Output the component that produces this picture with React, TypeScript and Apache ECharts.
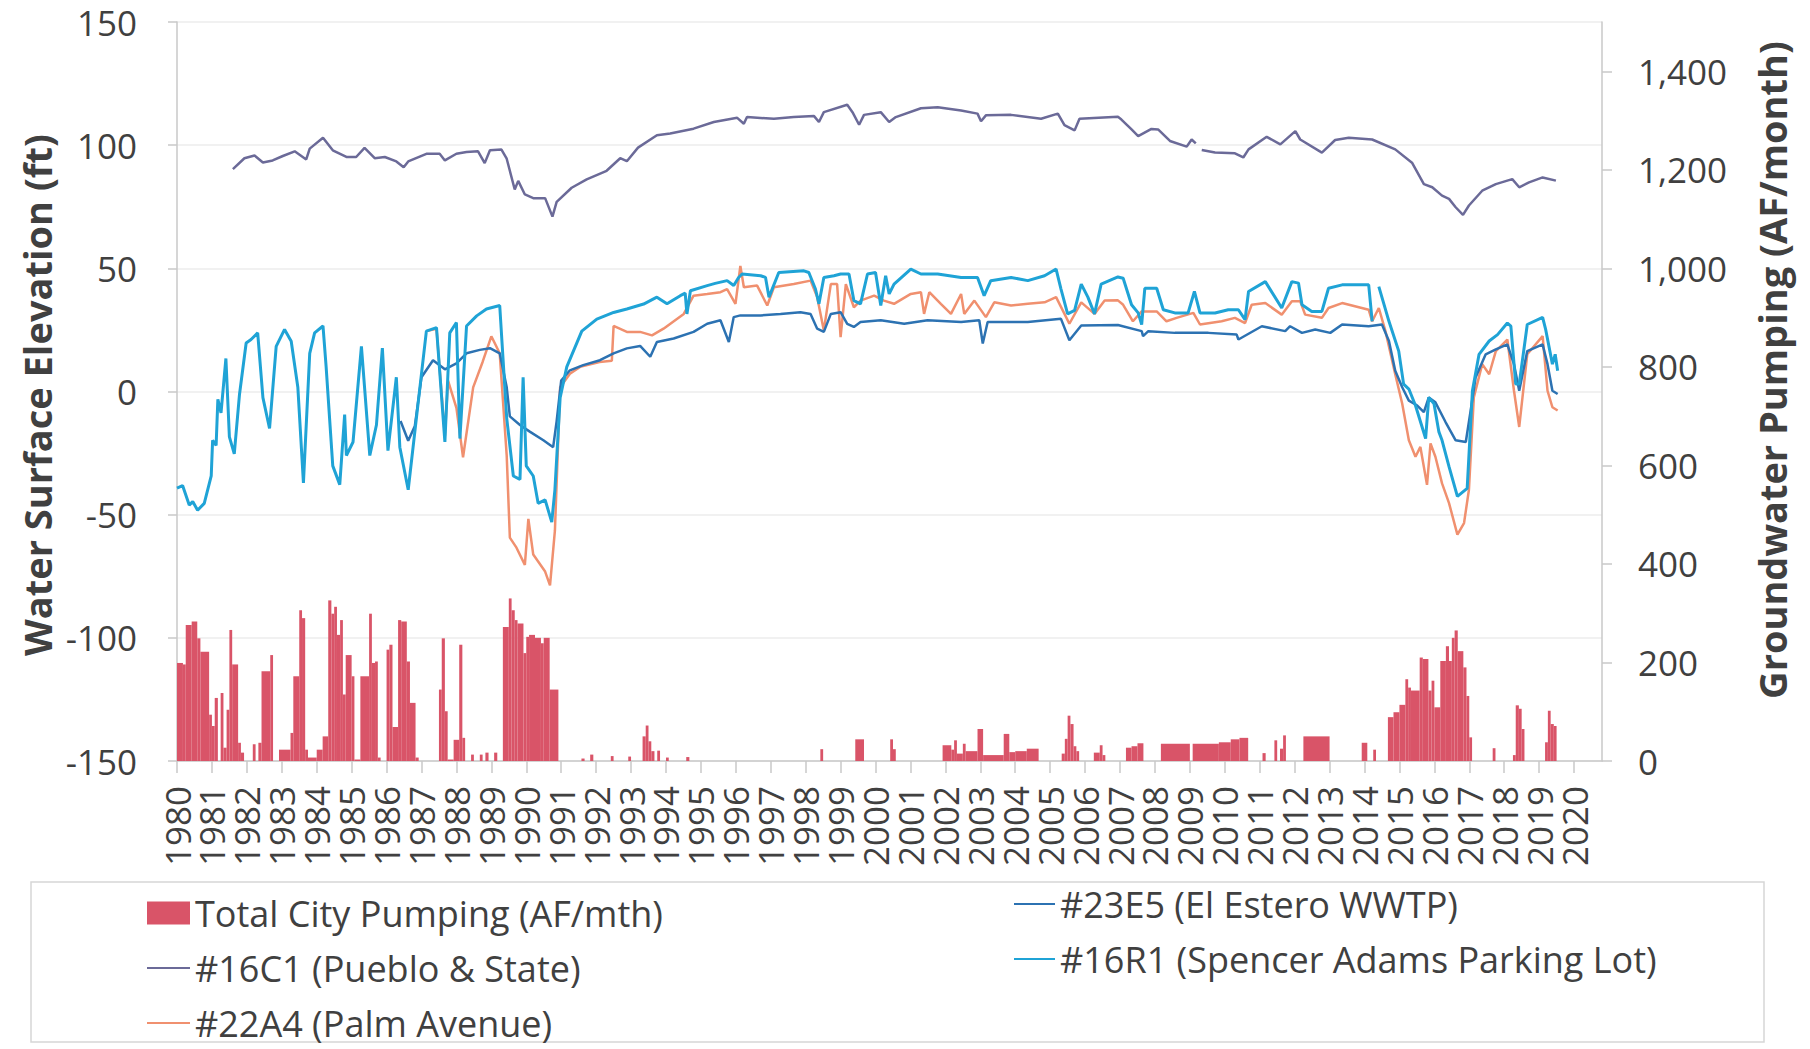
import React, { useEffect, useRef } from 'react';
import * as echarts from 'echarts';

const FONT = '"Open Sans", "Noto Sans", "DejaVu Sans", sans-serif';
const TEXT_COLOR = '#404040';

const SERIES_NAMES = [
  'Total City Pumping (AF/mth)',
  '#16C1 (Pueblo & State)',
  '#22A4 (Palm Avenue)',
  '#23E5 (El Estero WWTP)',
  '#16R1 (Spencer Adams Parking Lot)',
];

const SERIES_COLORS = ['#d95468', '#6b6a98', '#f0906f', '#2c72b2', '#1fa3d6'];

const X_MIN = 1980;
const X_MAX = 2020.8;
const LEFT_MIN = -150;
const LEFT_MAX = 150;
const RIGHT_MIN = 0;
const RIGHT_MAX = 1500;

// [start year, end year, AF/month]
const PUMPING_RUNS: [number, number, number][] = [
  [1980.0, 1980.17, 199], [1980.17, 1980.25, 196], [1980.25, 1980.42, 276], [1980.42, 1980.58, 283],
  [1980.58, 1980.67, 249], [1980.67, 1980.92, 222], [1980.92, 1981.0, 94], [1981.0, 1981.08, 71],
  [1981.08, 1981.17, 128], [1981.25, 1981.33, 138], [1981.33, 1981.42, 27], [1981.42, 1981.5, 104],
  [1981.5, 1981.58, 266], [1981.58, 1981.75, 196], [1981.75, 1981.83, 37], [1981.83, 1981.92, 17],
  [1982.17, 1982.25, 34], [1982.33, 1982.42, 37], [1982.42, 1982.67, 182], [1982.67, 1982.75, 215],
  [1982.92, 1983.25, 23], [1983.25, 1983.33, 57], [1983.33, 1983.5, 172], [1983.5, 1983.58, 306],
  [1983.58, 1983.67, 290], [1983.67, 1983.75, 23], [1983.75, 1984.0, 7], [1984.0, 1984.17, 23],
  [1984.17, 1984.33, 50], [1984.33, 1984.42, 326], [1984.42, 1984.5, 299], [1984.5, 1984.58, 313],
  [1984.58, 1984.67, 256], [1984.67, 1984.75, 286], [1984.75, 1984.83, 135], [1984.83, 1985.0, 215],
  [1985.0, 1985.08, 172], [1985.08, 1985.25, 3], [1985.25, 1985.5, 172], [1985.5, 1985.58, 299],
  [1985.58, 1985.67, 199], [1985.67, 1985.75, 202], [1985.75, 1985.83, 7], [1986.0, 1986.08, 226],
  [1986.08, 1986.17, 236], [1986.17, 1986.33, 69], [1986.33, 1986.42, 286], [1986.42, 1986.58, 283],
  [1986.58, 1986.67, 202], [1986.67, 1986.83, 118], [1986.83, 1986.92, 7], [1987.5, 1987.58, 145],
  [1987.58, 1987.67, 249], [1987.67, 1987.75, 101], [1987.75, 1987.92, 3], [1987.92, 1988.08, 43],
  [1988.08, 1988.17, 236], [1988.17, 1988.25, 47], [1988.42, 1988.5, 13], [1988.67, 1988.75, 13],
  [1988.83, 1988.92, 17], [1989.08, 1989.17, 17], [1989.33, 1989.5, 272], [1989.5, 1989.58, 330],
  [1989.58, 1989.67, 306], [1989.67, 1989.75, 286], [1989.75, 1989.92, 279], [1989.92, 1990.0, 219],
  [1990.0, 1990.08, 252], [1990.08, 1990.25, 256], [1990.25, 1990.42, 250], [1990.42, 1990.5, 239],
  [1990.5, 1990.67, 250], [1990.67, 1990.92, 145],
  [1991.58, 1991.67, 5], [1991.83, 1991.92, 13], [1992.42, 1992.5, 10], [1992.92, 1993.0, 9],
  [1993.33, 1993.42, 50], [1993.42, 1993.5, 72], [1993.5, 1993.58, 40], [1993.58, 1993.67, 20],
  [1993.75, 1993.83, 21], [1994.0, 1994.08, 7], [1994.58, 1994.67, 8],
  [1998.42, 1998.5, 24], [1999.42, 1999.67, 44], [2000.42, 2000.5, 44], [2000.5, 2000.58, 24],
  [2001.92, 2002.17, 32], [2002.17, 2002.25, 23], [2002.25, 2002.33, 42], [2002.33, 2002.5, 15],
  [2002.5, 2002.58, 35], [2002.58, 2002.92, 20], [2002.92, 2003.08, 65], [2003.08, 2003.67, 12],
  [2003.67, 2003.83, 55], [2003.83, 2004.0, 18], [2004.0, 2004.33, 20], [2004.33, 2004.67, 25],
  [2005.33, 2005.42, 15], [2005.42, 2005.5, 45], [2005.5, 2005.58, 92], [2005.58, 2005.67, 75],
  [2005.67, 2005.75, 30], [2005.75, 2005.83, 20],
  [2006.25, 2006.42, 17], [2006.42, 2006.5, 32], [2006.5, 2006.58, 12],
  [2007.17, 2007.33, 27], [2007.33, 2007.5, 30], [2007.5, 2007.67, 36],
  [2008.17, 2009.0, 35], [2009.08, 2009.83, 35], [2009.83, 2010.17, 38], [2010.17, 2010.42, 44],
  [2010.42, 2010.67, 47],
  [2011.08, 2011.17, 16], [2011.42, 2011.5, 42], [2011.58, 2011.67, 25], [2011.67, 2011.75, 52],
  [2012.25, 2013.0, 50], [2013.92, 2014.08, 37], [2014.25, 2014.33, 23],
  [2014.67, 2014.83, 89], [2014.83, 2015.0, 99], [2015.0, 2015.17, 114], [2015.17, 2015.25, 166],
  [2015.25, 2015.33, 149], [2015.33, 2015.58, 143], [2015.58, 2015.67, 210], [2015.67, 2015.83, 207],
  [2015.83, 2015.92, 143], [2015.92, 2016.0, 163], [2016.0, 2016.17, 109], [2016.17, 2016.33, 203],
  [2016.33, 2016.42, 233], [2016.42, 2016.5, 203], [2016.5, 2016.58, 250], [2016.58, 2016.67, 265],
  [2016.67, 2016.83, 223], [2016.83, 2016.92, 190], [2016.92, 2017.0, 132], [2017.0, 2017.08, 48],
  [2017.67, 2017.75, 26],
  [2018.25, 2018.33, 12], [2018.33, 2018.42, 113], [2018.42, 2018.5, 106], [2018.5, 2018.58, 65],
  [2019.17, 2019.25, 38], [2019.25, 2019.33, 102], [2019.33, 2019.42, 75], [2019.42, 2019.5, 71],
];

const WELL_16C1: any[] = [
  [1981.6, 90.3], [1981.93, 94.7], [1982.22, 95.8], [1982.46, 93], [1982.74, 93.8], [1983.03, 95.6],
  [1983.37, 97.5], [1983.7, 94.2], [1983.8, 98.6], [1984.18, 103], [1984.46, 97.9], [1984.85, 95.2],
  [1985.13, 95.2], [1985.37, 98.9], [1985.66, 94.7], [1985.95, 95.2], [1986.28, 93.4], [1986.49, 91],
  [1986.62, 93.4], [1987.14, 96.5], [1987.52, 96.5], [1987.67, 93.8], [1988.0, 96.5], [1988.29, 97.2],
  [1988.62, 97.5], [1988.81, 92.7], [1988.96, 97.9], [1989.29, 98.2], [1989.44, 94.5], [1989.67, 82],
  [1989.77, 85.5], [1989.96, 80], [1990.2, 78.5], [1990.54, 78.5], [1990.75, 71], [1990.87, 77],
  [1991.3, 82.7], [1991.73, 86.1], [1992.3, 89.6], [1992.69, 94.7], [1992.88, 93.5], [1993.2, 99],
  [1993.74, 104], [1994.12, 104.7], [1994.79, 106.7], [1995.37, 109.4], [1996.04, 111.1], [1996.23, 108.7],
  [1996.32, 111.4], [1997.09, 110.7], [1997.66, 111.4], [1998.24, 111.8], [1998.38, 109.4], [1998.52, 113.4],
  [1999.19, 116.4], [1999.34, 113.4], [1999.53, 108.3], [1999.67, 112.3], [2000.15, 113.4], [2000.39, 109.4],
  [2000.58, 111.4], [2001.3, 115], [2001.78, 115.4], [2002.45, 114.1], [2002.92, 112.8], [2003.02, 109.7],
  [2003.16, 112.1], [2003.88, 112.3], [2004.74, 110.7], [2005.22, 112.8], [2005.41, 108.1], [2005.7, 106],
  [2005.84, 110.7], [2006.94, 111.5], [2007.04, 110.4], [2007.33, 106.4], [2007.52, 103.7], [2007.9, 106.6],
  [2008.09, 106.4], [2008.43, 101.7], [2008.91, 99.4], [2009.05, 102.3], [2009.17, 100.7], [2009.25, '-'],
  [2009.34, 98], [2009.72, 97], [2010.29, 96.7], [2010.53, 95], [2010.68, 98.3], [2011.2, 103.4],
  [2011.59, 100.3], [2012.02, 105.7], [2012.16, 102.3], [2012.78, 97], [2013.16, 102.1], [2013.55, 103],
  [2014.22, 102.3], [2014.88, 98.3], [2015.36, 92.9], [2015.7, 84.2], [2015.94, 82.9], [2016.22, 79.5],
  [2016.42, 78.2], [2016.61, 74.8], [2016.82, 71.7], [2016.99, 75.5], [2017.37, 81.5], [2017.76, 84.2],
  [2018.23, 86.2], [2018.43, 82.9], [2018.71, 84.9], [2019.1, 86.9], [2019.48, 85.6],
];

const WELL_22A4: any[] = [
  [1987.14, 24.5], [1987.43, 25.5], [1987.67, -18], [1987.76, 4.4], [1988.0, -6.6], [1988.19, -26.7],
  [1988.48, 1.7], [1988.75, 12], [1989.0, 22.4], [1989.24, 15.5], [1989.44, -26], [1989.53, -59.3],
  [1989.72, -63.4], [1989.96, -70.4], [1990.06, -51.7], [1990.2, -66.2], [1990.34, -69], [1990.54, -73.1],
  [1990.68, -78.7], [1990.82, -56.5], [1990.97, 1.7], [1991.25, 7.2], [1991.54, 10], [1992.1, 12],
  [1992.45, 12.5], [1992.5, 26.6], [1992.88, 24.2], [1993.26, 24.2], [1993.6, 22.8], [1993.93, 25.5],
  [1994.51, 31.5], [1994.79, 38.9], [1995.18, 39.6], [1995.56, 40.3], [1995.75, 41.6], [1995.99, 35.6],
  [1996.13, 51], [1996.23, 42.3], [1996.61, 43], [1996.9, 34.9], [1997.09, 42.3], [1997.66, 43.6],
  [1998.14, 45], [1998.33, 38.3], [1998.52, 24.8], [1998.72, 43.6], [1998.9, 43.6], [1999.0, 22.1],
  [1999.15, 43.6], [1999.38, 34.2], [1999.57, 36.9], [1999.96, 38.9], [2000.24, 36.9], [2000.53, 35.6],
  [2001.01, 39.6], [2001.3, 40.3], [2001.39, 31.5], [2001.54, 40.3], [2001.87, 35.6], [2002.16, 31.5],
  [2002.45, 39.6], [2002.54, 31.5], [2002.83, 36.9], [2003.16, 30.2], [2003.4, 36.2], [2003.88, 34.9],
  [2004.36, 35.6], [2004.84, 36.2], [2005.17, 38.3], [2005.41, 31.5], [2005.55, 27.5], [2005.89, 36.2],
  [2006.27, 31.5], [2006.56, 36.9], [2006.94, 37], [2007.09, 35.2], [2007.37, 28.5], [2007.62, 32.5],
  [2008.05, 32.5], [2008.33, 28.5], [2008.62, 29.9], [2009.1, 31.9], [2009.29, 27.2], [2009.91, 28.5],
  [2010.29, 29.9], [2010.58, 27.8], [2010.77, 35.2], [2011.16, 35.9], [2011.63, 31.2], [2011.92, 36.6],
  [2012.16, 36.6], [2012.3, 31.2], [2012.78, 29.9], [2012.97, 33.9], [2013.36, 35.9], [2014.12, 33.2],
  [2014.22, 28.5], [2014.41, 33.9], [2014.6, 24.5], [2014.88, 7], [2015.08, -5], [2015.27, -19.8],
  [2015.46, -26.5], [2015.6, -22.5], [2015.79, -37.9], [2015.89, -21.1], [2016.03, -26.5], [2016.22, -37.3],
  [2016.42, -45.3], [2016.66, -58.1], [2016.85, -53.4], [2016.99, -39.9], [2017.13, -2.4], [2017.37, 11.1],
  [2017.57, 7], [2017.76, 16.4], [2018.09, 21.1], [2018.28, 0.3], [2018.43, -14.4], [2018.66, 15.1],
  [2019.1, 22.5], [2019.24, 0.3], [2019.38, -6.4], [2019.53, -7.7],
];

const WELL_23E5: any[] = [
  [1986.4, -12], [1986.62, -20], [1986.81, -14], [1987.0, 5.8], [1987.33, 12.7], [1987.67, 9],
  [1988.0, 11.4], [1988.29, 15.5], [1988.67, 16.9], [1988.96, 17.6], [1989.24, 15.5], [1989.44, 1.7],
  [1989.53, -10.1], [1989.82, -13.6], [1990.1, -16.3], [1990.49, -19.8], [1990.77, -22.6], [1990.87, -12],
  [1991.0, 4.4], [1991.25, 8.6], [1991.63, 10.7], [1992.11, 12.7], [1992.5, 15.5], [1992.88, 17.5],
  [1993.26, 18.5], [1993.55, 14.1], [1993.74, 20.1], [1994.22, 21.5], [1994.79, 24.2], [1995.18, 27.5],
  [1995.56, 28.9], [1995.8, 20.1], [1995.94, 30.2], [1996.13, 30.9], [1996.71, 30.9], [1997.28, 31.5],
  [1997.85, 32.2], [1998.14, 31.5], [1998.33, 25.5], [1998.52, 24.2], [1998.72, 31.5], [1999.0, 32.2],
  [1999.19, 27.5], [1999.38, 26.2], [1999.57, 28.2], [2000.15, 28.9], [2000.82, 27.5], [2001.49, 28.9],
  [2002.45, 28.2], [2002.97, 28.9], [2003.07, 19.5], [2003.21, 28.2], [2004.36, 28.2], [2005.31, 29.5],
  [2005.55, 20.8], [2005.89, 26.8], [2006.94, 27], [2007.62, 24.5], [2007.66, 22.5], [2007.81, 24.5],
  [2008.57, 23.8], [2009.53, 23.8], [2010.34, 23.1], [2010.39, 21.1], [2011.06, 26.5], [2011.73, 24.5],
  [2011.87, 26.5], [2012.21, 23.8], [2012.59, 25.2], [2013.02, 23.8], [2013.36, 27.2], [2014.12, 26.5],
  [2014.5, 27.2], [2014.7, 20.5], [2014.88, 8.4], [2015.08, 1.7], [2015.27, -3.7], [2015.51, -5.7],
  [2015.7, -8.4], [2015.84, -2.4], [2016.03, -4.4], [2016.32, -12.4], [2016.61, -19.8], [2016.9, -20.5],
  [2017.04, -7.7], [2017.18, 5.7], [2017.47, 15.1], [2017.76, 17.1], [2018.09, 19.1], [2018.28, 11.1],
  [2018.43, 0.3], [2018.66, 16.4], [2019.1, 19.1], [2019.24, 11.1], [2019.38, 0.3], [2019.53, -1],
];

const WELL_16R1: any[] = [
  [1980.0, -39.2], [1980.16, -38.2], [1980.35, -46.1], [1980.45, -44.7], [1980.59, -48.2], [1980.78, -45.4],
  [1980.98, -34.3], [1981.02, -19.8], [1981.12, -21.9], [1981.17, -3.2], [1981.26, -8.7], [1981.4, 13.4],
  [1981.5, -18.4], [1981.64, -25.3], [1981.79, -1.1], [1981.98, 19.7], [1982.12, 21.1], [1982.31, 23.8],
  [1982.46, -2.5], [1982.65, -15], [1982.84, 18.3], [1983.08, 25.2], [1983.27, 20.4], [1983.46, 1.7],
  [1983.62, -37.1], [1983.8, 15.5], [1983.94, 23.8], [1984.18, 26.6], [1984.27, 10], [1984.46, -30.2],
  [1984.66, -37.8], [1984.8, -9.4], [1984.85, -26], [1985.04, -20.5], [1985.28, 18.3], [1985.52, -26],
  [1985.71, -13.6], [1985.88, 17.6], [1986.04, -24], [1986.28, 5.8], [1986.38, -22.6], [1986.62, -39.9],
  [1986.81, -16.3], [1987.14, 24.5], [1987.43, 25.9], [1987.67, -20.5], [1987.81, 23.8], [1988.0, 28],
  [1988.1, -19.1], [1988.29, 26.6], [1988.58, 30.7], [1988.86, 33.5], [1989.24, 34.9], [1989.44, -10.8],
  [1989.63, -34.3], [1989.82, -35.7], [1989.91, 5.8], [1990.0, -30.2], [1990.2, -34.3], [1990.34, -45.4],
  [1990.54, -44], [1990.73, -53], [1990.82, -39.9], [1990.97, -2.5], [1991.16, 10], [1991.59, 24.5],
  [1992.02, 29.4], [1992.5, 32.1], [1992.88, 33.5], [1993.36, 35.5], [1993.74, 38.3], [1994.03, 35.6],
  [1994.41, 38.9], [1994.55, 39.9], [1994.6, 31.5], [1994.7, 40.9], [1995.18, 43], [1995.41, 43.9],
  [1995.75, 45], [1995.94, 43], [1996.08, 46.3], [1996.18, 47.7], [1996.71, 47], [1996.85, 46.3],
  [1996.95, 38.3], [1997.23, 48.3], [1997.95, 49], [1998.09, 48.3], [1998.28, 41.6], [1998.38, 35.6],
  [1998.52, 46.3], [1998.81, 47], [1999.0, 47.7], [1999.24, 47.7], [1999.38, 36.9], [1999.57, 35.6],
  [1999.77, 47.7], [2000.0, 48.3], [2000.15, 34.9], [2000.29, 47], [2000.39, 39.6], [2000.53, 43.6],
  [2001.01, 49.7], [2001.3, 47.7], [2001.78, 47.7], [2002.45, 46.3], [2002.92, 46.3], [2003.11, 38.9],
  [2003.3, 45], [2003.88, 46.3], [2004.36, 45], [2004.84, 47], [2005.17, 49.7], [2005.31, 41.6],
  [2005.5, 31.5], [2005.7, 32.9], [2005.89, 43.6], [2006.08, 38.3], [2006.27, 31.5], [2006.46, 43.6],
  [2006.94, 46.5], [2007.09, 46], [2007.33, 35.2], [2007.52, 31.9], [2007.62, 27.2], [2007.71, 41.9],
  [2008.05, 41.9], [2008.24, 33.2], [2008.57, 31.9], [2008.95, 31.9], [2009.13, 40.6], [2009.29, 31.9],
  [2009.72, 31.9], [2010.1, 33.2], [2010.39, 33.2], [2010.58, 29.2], [2010.68, 40.6], [2011.16, 44.6],
  [2011.63, 33.9], [2011.92, 44.6], [2012.11, 44], [2012.21, 35.2], [2012.49, 32.5], [2012.78, 32.5],
  [2012.97, 41.9], [2013.36, 43.3], [2014.12, 43.3], [2014.22, 28.5], [2014.3, '-'], [2014.41, 42.6],
  [2014.7, 28.5], [2014.98, 16.4], [2015.12, 3], [2015.27, 1], [2015.46, -5.7], [2015.75, -19.1],
  [2015.84, -2.4], [2015.99, -5], [2016.13, -16.4], [2016.22, -19.8], [2016.42, -30.5], [2016.66, -42.6],
  [2016.94, -39.3], [2017.09, 0.3], [2017.28, 15.1], [2017.57, 20.5], [2017.81, 23.1], [2018.09, 27.8],
  [2018.19, 26.5], [2018.33, 3], [2018.43, 3], [2018.66, 27.2], [2019.1, 30.1], [2019.19, 25],
  [2019.38, 11.1], [2019.46, 15.1], [2019.53, 8.4],
];

const LINE_DATA = [WELL_16C1, WELL_22A4, WELL_23E5, WELL_16R1];
const LINE_WIDTHS = [2.5, 2.5, 2.5, 3];

export default function App() {
  const ref = useRef<HTMLDivElement>(null);

  useEffect(() => {
    if (!ref.current) return;
    const chart = echarts.init(ref.current, undefined, { renderer: 'svg' });
    const axisGray = '#c9c9c9';

    const lineSeries = LINE_DATA.map((data, i) => ({
      name: SERIES_NAMES[i + 1],
      type: 'line',
      xAxisIndex: 0,
      yAxisIndex: 0,
      data,
      symbol: 'none',
      showSymbol: false,
      connectNulls: false,
      lineStyle: { width: LINE_WIDTHS[i], color: SERIES_COLORS[i + 1] },
      itemStyle: { color: SERIES_COLORS[i + 1] },
      z: 3 + i,
    }));

    const legendText = { fontSize: 36, color: TEXT_COLOR, lineHeight: 40, fontFamily: FONT };
    const lineItem = (name: string) => ({ name, itemStyle: { opacity: 0 } });

    const option: any = {
      animation: false,
      backgroundColor: '#ffffff',
      textStyle: { fontFamily: FONT },
      grid: { left: 177, right: 208, top: 22, bottom: 288, containLabel: false },
      xAxis: {
        type: 'value',
        min: X_MIN,
        max: X_MAX,
        interval: 1,
        axisLine: { show: true, onZero: false, lineStyle: { color: axisGray, width: 1.5 } },
        axisTick: { show: true, length: 12, lineStyle: { color: axisGray, width: 1.5 } },
        axisLabel: {
          rotate: 90,
          margin: 25,
          fontSize: 35,
          color: TEXT_COLOR,
          fontFamily: FONT,
          showMaxLabel: false,
          formatter: (v: number) => (Number.isInteger(v) ? String(v) : ''),
        },
        splitLine: { show: false },
      },
      yAxis: [
        {
          type: 'value',
          min: LEFT_MIN,
          max: LEFT_MAX,
          interval: 50,
          position: 'left',
          axisLine: { show: true, lineStyle: { color: axisGray, width: 1.5 } },
          axisTick: { show: true, length: 9, lineStyle: { color: axisGray, width: 1.5 } },
          axisLabel: { margin: 40, fontSize: 35, color: TEXT_COLOR, fontFamily: FONT },
          splitLine: { show: true, lineStyle: { color: '#ececec', width: 1.5 } },
        },
        {
          type: 'value',
          min: RIGHT_MIN,
          max: RIGHT_MAX,
          interval: 200,
          position: 'right',
          axisLine: { show: true, lineStyle: { color: axisGray, width: 1.5 } },
          axisTick: { show: true, length: 10, lineStyle: { color: axisGray, width: 1.5 } },
          axisLabel: {
            margin: 36,
            fontSize: 35,
            color: TEXT_COLOR,
            fontFamily: FONT,
            showMaxLabel: false,
            formatter: (v: number) => (v > 1400 ? '' : v.toLocaleString('en-US')),
          },
          splitLine: { show: false },
        },
      ],
      legend: [
        {
          orient: 'vertical',
          left: 146,
          top: 893,
          height: 156,
          padding: 0,
          itemWidth: 43,
          itemHeight: 23,
          itemGap: 15,
          selectedMode: false,
          textStyle: legendText,
          data: [{ name: SERIES_NAMES[0], icon: 'rect' }, lineItem(SERIES_NAMES[1]), lineItem(SERIES_NAMES[2])],
        },
        {
          orient: 'vertical',
          left: 1013,
          top: 884,
          height: 156,
          padding: 0,
          itemWidth: 41,
          itemHeight: 23,
          itemGap: 15,
          selectedMode: false,
          textStyle: legendText,
          data: [lineItem(SERIES_NAMES[3]), lineItem(SERIES_NAMES[4])],
        },
      ],
      graphic: [
        {
          type: 'rect',
          shape: { x: 31, y: 882, width: 1733, height: 160 },
          style: { fill: 'none', stroke: '#d6d6d6', lineWidth: 1.5 },
          z: 0,
        },
        {
          type: 'text',
          x: 37,
          y: 395,
          rotation: Math.PI / 2,
          style: {
            text: 'Water Surface Elevation (ft)',
            fontSize: 38,
            fontWeight: 'bold',
            fontFamily: FONT,
            fill: TEXT_COLOR,
            align: 'center',
            verticalAlign: 'middle',
          },
        },
        {
          type: 'text',
          x: 1772,
          y: 370,
          rotation: Math.PI / 2,
          style: {
            text: 'Groundwater Pumping (AF/month)',
            fontSize: 38,
            fontWeight: 'bold',
            fontFamily: FONT,
            fill: TEXT_COLOR,
            align: 'center',
            verticalAlign: 'middle',
          },
        },
      ],
      series: [
        {
          name: SERIES_NAMES[0],
          type: 'custom',
          xAxisIndex: 0,
          yAxisIndex: 1,
          data: PUMPING_RUNS,
          encode: { x: [0, 1], y: 2 },
          clip: true,
          itemStyle: { color: SERIES_COLORS[0] },
          z: 2,
          renderItem: (params: any, api: any) => {
            const top = api.coord([api.value(0), api.value(2)]);
            const bottom = api.coord([api.value(1), 0]);
            return {
              type: 'rect',
              shape: {
                x: top[0],
                y: top[1],
                width: bottom[0] - top[0],
                height: bottom[1] - top[1],
              },
              style: { fill: SERIES_COLORS[0] },
            };
          },
        },
        ...lineSeries,
      ],
    };

    chart.setOption(option);
    return () => chart.dispose();
  }, []);

  return (
    <div
      ref={ref}
      style={{ position: 'fixed', left: 0, top: 0, width: 1810, height: 1049, background: '#ffffff' }}
    />
  );
}
